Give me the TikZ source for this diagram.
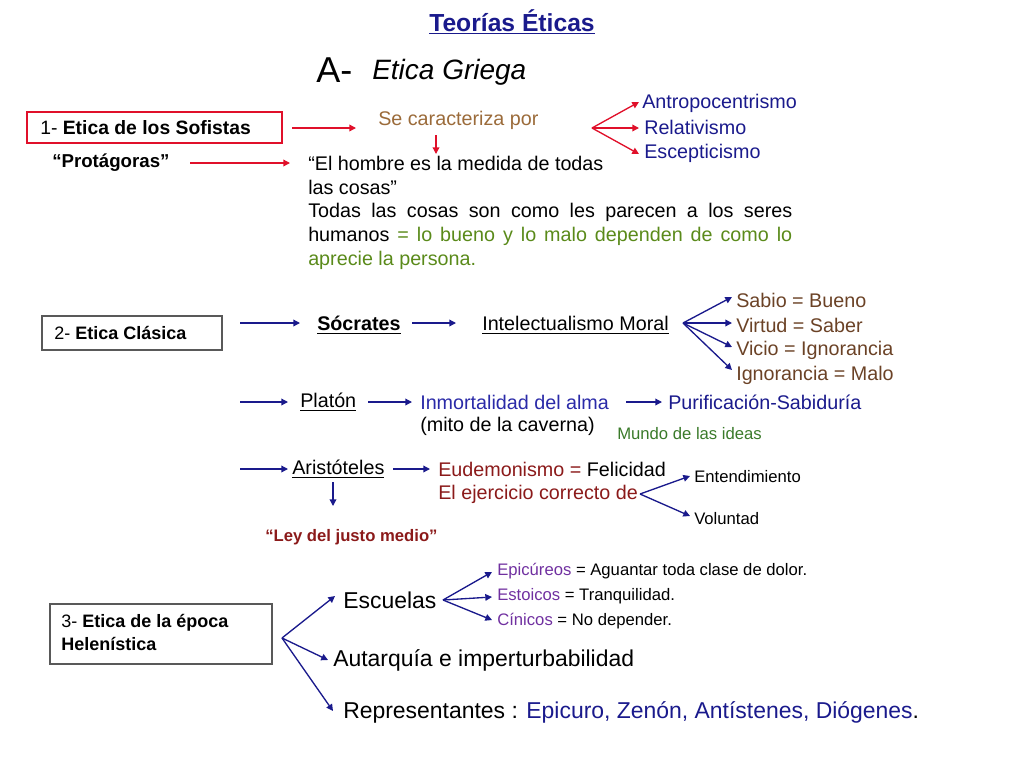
\documentclass[tikz,border=0pt]{standalone}
\usepackage{fontspec}
\setmainfont{Liberation Sans}
\usetikzlibrary{arrows.meta}
\definecolor{dblue}{HTML}{1A1A8C}
\definecolor{mblue}{HTML}{2A2AA8}
\definecolor{brn}{HTML}{9B6B3A}
\definecolor{dbrn}{HTML}{6B4226}
\definecolor{grn}{HTML}{5A8A1A}
\definecolor{dgrn}{HTML}{3A7A2A}
\definecolor{dred}{HTML}{8B1A1A}
\definecolor{purp}{HTML}{7030A0}
\definecolor{rline}{HTML}{E0102A}
\begin{document}
\begin{tikzpicture}[x=0.75pt,y=-0.75pt,
  t/.style={anchor=west,inner sep=0pt,font=\fontsize{14.8}{17}\selectfont},
  ts/.style={anchor=west,inner sep=0pt,font=\fontsize{12.5}{14}\selectfont},
  tb/.style={anchor=west,inner sep=0pt,font=\fontsize{17.2}{20}\selectfont},
  rarr/.style={draw=rline,line width=1pt,-{Triangle[length=5pt,width=5pt]}},
  barr/.style={draw=dblue,line width=1pt,-{Triangle[length=5pt,width=5pt]}},
  gbox/.style={draw=gray!70!black,line width=0.8pt,inner sep=0pt}]
\useasboundingbox (0,0) rectangle (1024,768);
\node[anchor=center,inner sep=0pt,font=\fontsize{18.5}{20}\selectfont\bfseries,text=dblue] (title) at (512,22) {\underline{Teorías Éticas}};
\node[t,font=\fontsize{27}{30}\selectfont] (A) at (316,70) {A-};
\node[t,font=\fontsize{21}{24}\selectfont\itshape] (eg) at (372,72) {Etica Griega};
% 1
\draw[draw=rline,line width=1pt] (27,112) rectangle (282,143);
\node[t,font=\fontsize{14.5}{16}\selectfont] (b1) at (40,128) {1- \textbf{Etica de los Sofistas}};
\coordinate (r1a) at (292,128); \coordinate (r1b) at (356,128);
\draw[rarr] (r1a) -- (r1b);
\node[t,text=brn] (sc) at (378,120) {Se caracteriza por};
\draw[rarr] (436,135) -- (436,154);
\coordinate (f1) at (592,128);
\draw[rarr] (f1) -- (639,102);
\draw[rarr] (f1) -- (639,128);
\draw[rarr] (f1) -- (639,154);
\node[t,text=dblue] (an) at (642,103) {Antropocentrismo};
\node[t,text=dblue] (re) at (644,127) {Relativismo};
\node[t,text=dblue] (es) at (644,153) {Escepticismo};
\node[t,font=\fontsize{14}{16}\selectfont\bfseries] (pr) at (52,163) {“Protágoras”};
\draw[rarr] (190,163) -- (290,163);
\node[t] (hom) at (308,163) {“El hombre es la medida de todas};
\node[t] (hom2) at (308,187) {las cosas”};
\node[anchor=north west,inner sep=0pt,text width=363pt,align=justify,font=\fontsize{14.8}{18}\selectfont] (par) at (308,203) {\hyphenpenalty=10000 Todas las cosas son como les parecen a los seres\linebreak humanos \textcolor{grn}{= lo bueno y lo malo dependen de como lo\linebreak aprecie la persona.}};
% 2
\draw[gbox] (42,316) rectangle (222,350);
\node[t,font=\fontsize{13.5}{15}\selectfont] (b2) at (54,333) {2- \textbf{Etica Clásica}};
\draw[barr] (240,323) -- (300,323);
\node[t,font=\fontsize{14.8}{17}\selectfont\bfseries] (so) at (317,325) {\underline{Sócrates}};
\draw[barr] (412,323) -- (456,323);
\node[t] (im) at (482,325) {\underline{Intelectualismo Moral}};
\coordinate (f2) at (683,323);
\draw[barr] (f2) -- (732,297);
\draw[barr] (f2) -- (732,323);
\draw[barr] (f2) -- (732,347);
\draw[barr] (f2) -- (732,370);
\node[t,text=dbrn] at (736,300) {Sabio = Bueno};
\node[t,text=dbrn] at (736,325) {Virtud = Saber};
\node[t,text=dbrn] at (736,350) {Vicio = Ignorancia};
\node[t,text=dbrn] at (736,375) {Ignorancia = Malo};
\draw[barr] (240,402) -- (288,402);
\node[t] (pl) at (300,402) {\underline{Platón}};
\draw[barr] (368,402) -- (412,402);
\node[t,text=mblue] (ia) at (420,402) {Inmortalidad del alma};
\node[t] (mc) at (420,426) {(mito de la caverna)};
\draw[barr] (626,402) -- (662,402);
\node[t,text=dblue] (ps) at (668,402) {Purificación-Sabiduría};
\node[ts,text=dgrn] (mi) at (617,434) {Mundo de las ideas};
\draw[barr] (240,469) -- (288,469);
\node[t] (ar) at (292,469) {\underline{Aristóteles}};
\draw[barr] (393,469) -- (430,469);
\node[t] (eu) at (438,469) {\textcolor{dred}{Eudemonismo =} Felicidad};
\node[t,text=dred] (ej) at (438,494) {El ejercicio correcto de};
\coordinate (f3) at (640,494);
\draw[barr] (f3) -- (690,476);
\draw[barr] (f3) -- (690,516);
\node[ts] at (694,477) {Entendimiento};
\node[ts] at (694,519) {Voluntad};
\draw[barr] (333,482) -- (333,506);
\node[ts,font=\fontsize{12.5}{14}\selectfont\bfseries,text=dred] at (265,537) {“Ley del justo medio”};
% 3
\draw[gbox] (50,604) rectangle (272,664);
\node[anchor=north west,inner sep=0pt,align=left,font=\fontsize{13.5}{17}\selectfont] (b3) at (61,614) {3- \textbf{Etica de la época}\\\textbf{Helenística}};
\coordinate (f4) at (282,638);
\draw[barr] (f4) -- (335,596);
\draw[barr] (f4) -- (328,660);
\draw[barr] (f4) -- (333,711);
\node[tb] (esc) at (343,600) {Escuelas};
\node[tb] (au) at (333,660) {Autarquía e imperturbabilidad};
\node[tb] (rep) at (343,712) {Representantes : \textcolor{dblue}{Epicuro, Zenón, Antístenes, Diógenes}.};
\coordinate (f5) at (443,600);
\draw[barr] (f5) -- (492,572);
\draw[barr] (f5) -- (492,597);
\draw[barr] (f5) -- (492,620);
\node[ts] at (497,571) {\textcolor{purp}{Epicúreos} = Aguantar toda clase de dolor.};
\node[ts] at (497,596) {\textcolor{purp}{Estoicos} = Tranquilidad.};
\node[ts] at (497,621) {\textcolor{purp}{Cínicos} = No depender.};
\end{tikzpicture}
\end{document}
